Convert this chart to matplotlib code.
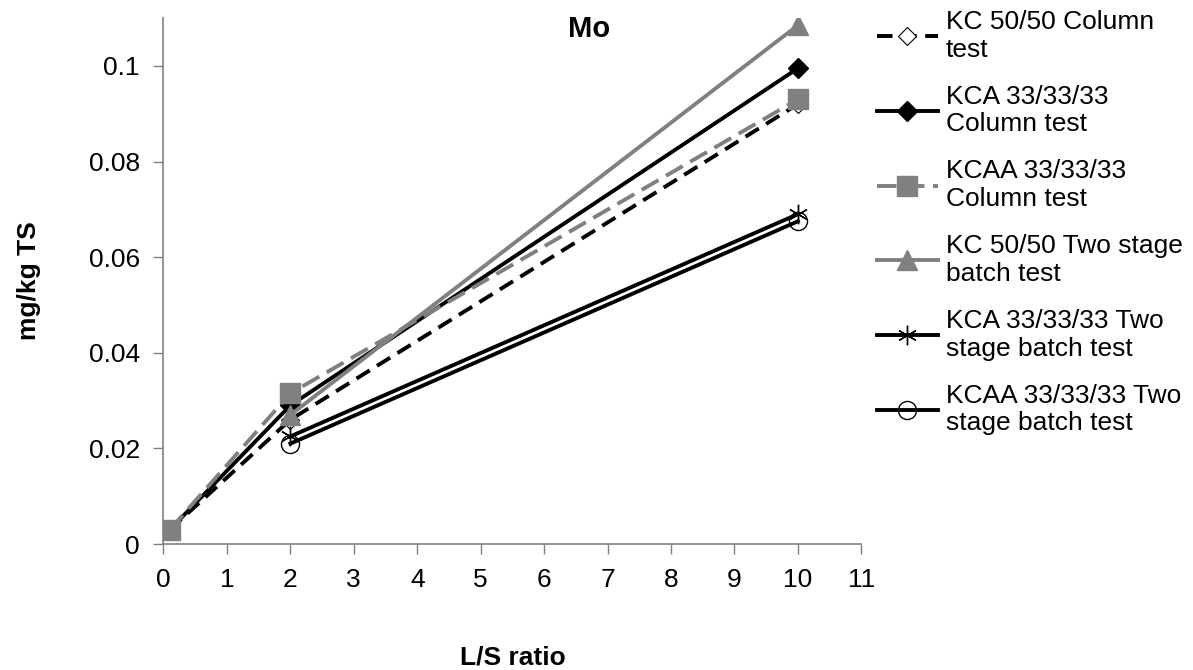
import matplotlib.pyplot as plt

plt.rcParams['font.family'] = ['Liberation Sans', 'DejaVu Sans']

# L/S ratios and Mo release (mg/kg TS)
ls_column = [0.1, 2, 10]
ls_batch = [2, 10]

kc_column = [0.003, 0.026, 0.092]
kca_column = [0.003, 0.029, 0.0995]
kcaa_column = [0.003, 0.0315, 0.093]
kc_batch = [0.027, 0.1085]
kca_batch = [0.0225, 0.069]
kcaa_batch = [0.021, 0.0675]

labels = ['KC 50/50 Column\ntest',
          'KCA 33/33/33\nColumn test',
          'KCAA 33/33/33\nColumn test',
          'KC 50/50 Two stage\nbatch test',
          'KCA 33/33/33 Two\nstage batch test',
          'KCAA 33/33/33 Two\nstage batch test']

xticks = list(range(0, 12))
yticks = [0, 0.02, 0.04, 0.06, 0.08, 0.1]
ytick_labels = ['0', '0.02', '0.04', '0.06', '0.08', '0.1']

fig = plt.figure(figsize=(11.93, 6.70), dpi=100)
ax = fig.add_axes([0.137, 0.188, 0.585, 0.785])

gray = '#808080'
fs = 19

ax.plot(ls_column, kc_column, color='black', lw=2.8, ls=(0, (4, 2.2)),
        marker='D', ms=9, mfc='white', mec='black', mew=0.8,
        label=labels[0], zorder=2)
ax.plot(ls_column, kca_column, color='black', lw=2.8, marker='D', ms=10,
        mfc='black', mec='black', label=labels[1], zorder=3)
ax.plot(ls_column, kcaa_column, color=gray, lw=2.8, ls=(0, (5, 2.2)),
        marker='s', ms=14, mfc=gray, mec=gray, label=labels[2], zorder=4)
ax.plot(ls_batch, kc_batch, color=gray, lw=2.8, marker='^', ms=14,
        mfc=gray, mec=gray, label=labels[3], zorder=5)
ax.plot(ls_batch, kca_batch, color='black', lw=2.8, marker=(6, 2, 0), ms=14,
        mec='black', mew=1.0, label=labels[4], zorder=6)
ax.plot(ls_batch, kcaa_batch, color='black', lw=2.8, marker='o', ms=13,
        mfc='none', mec='black', mew=1.0, label=labels[5], zorder=7)

ax.set_xlim(0, 11)
ax.set_ylim(0, 0.11)
ax.set_xticks(xticks)
ax.set_yticks(yticks)
ax.set_yticklabels(ytick_labels)
ax.tick_params(labelsize=fs, direction='out', length=7, width=1, color=gray, pad=10)

for side in ('top', 'right'):
    ax.spines[side].set_visible(False)
for side in ('left', 'bottom'):
    ax.spines[side].set_color(gray)
    ax.spines[side].set_linewidth(1.2)

ax.set_xlabel('L/S ratio', fontsize=fs, fontweight='bold', labelpad=39)
ax.set_ylabel('mg/kg TS', fontsize=fs, fontweight='bold', labelpad=34)
ax.text(0.61, 0.98, 'Mo', transform=ax.transAxes, fontsize=21,
        fontweight='bold', ha='center', va='center')

leg = fig.legend(loc='upper left', bbox_to_anchor=(0.724, 1.005),
                 frameon=False, fontsize=fs, handlelength=2.3,
                 handletextpad=0.3, labelspacing=0.87, borderaxespad=0.1)

fig.savefig('out.png', dpi=100)
